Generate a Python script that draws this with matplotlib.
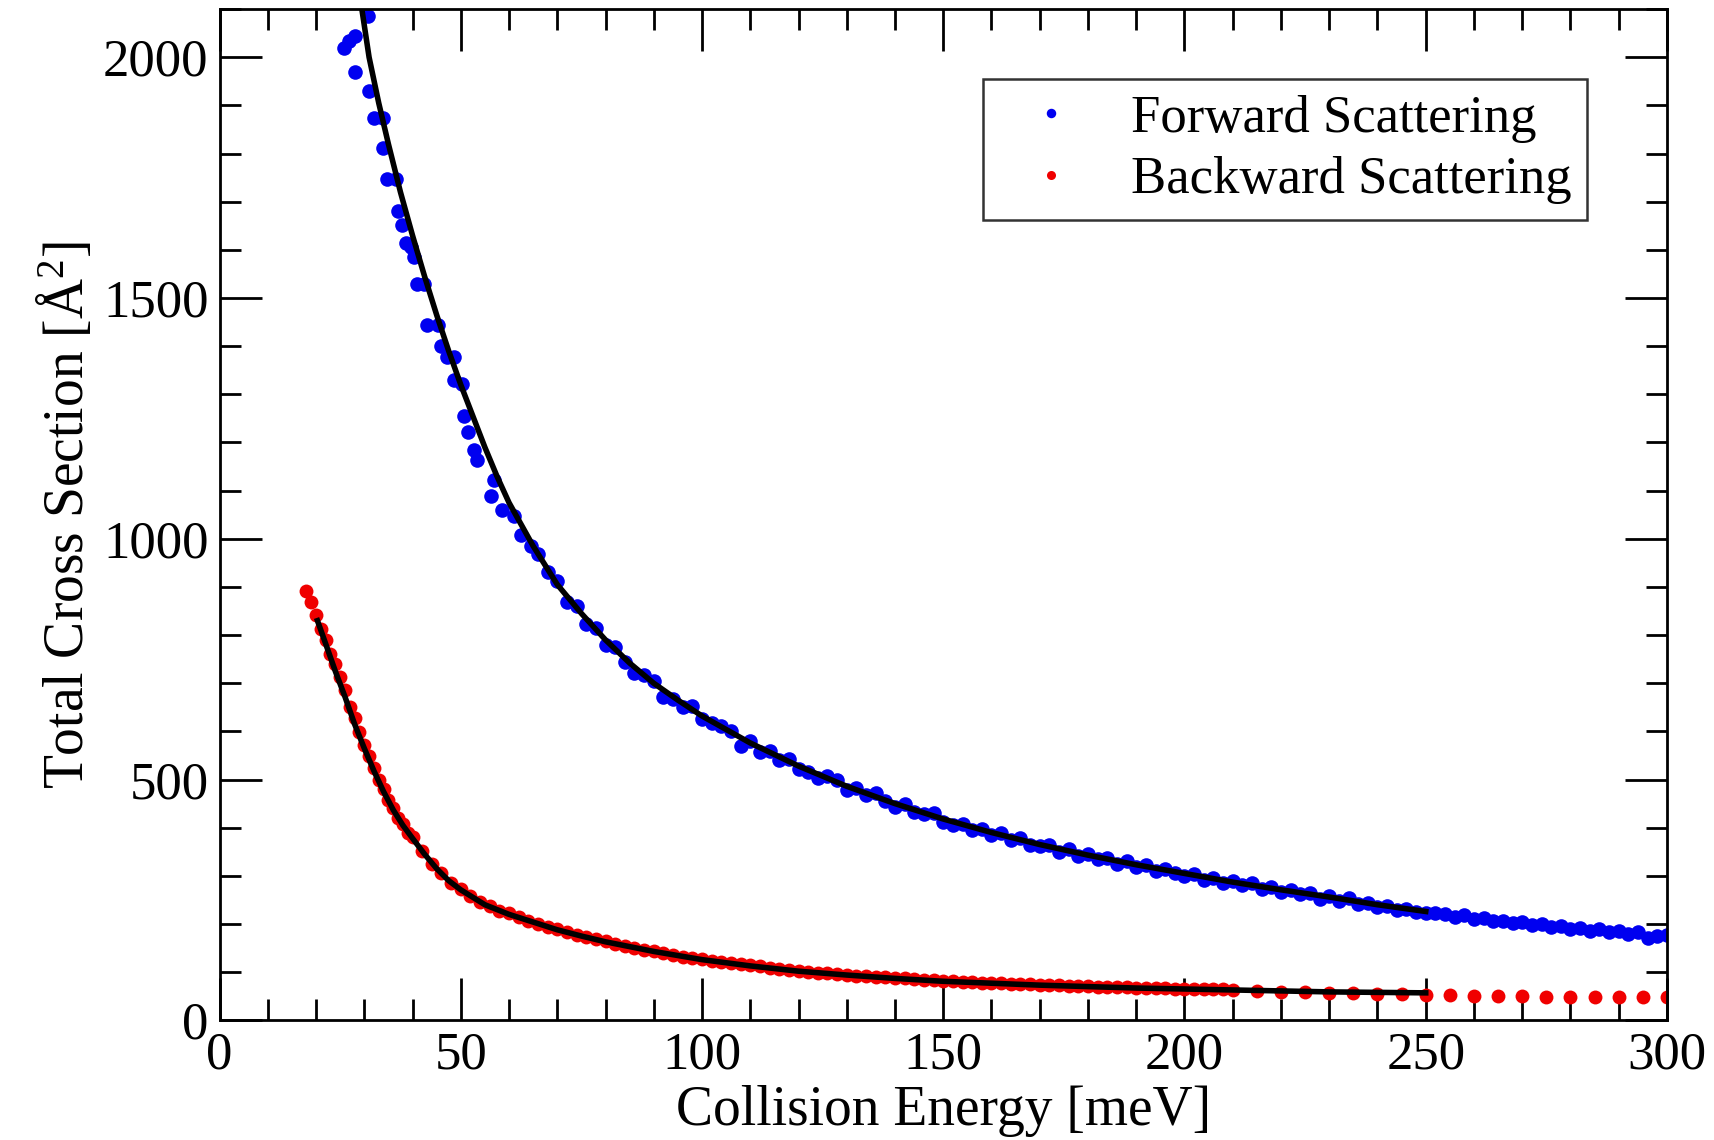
import matplotlib
matplotlib.use("Agg")
import matplotlib.pyplot as plt
from matplotlib.ticker import MultipleLocator

plt.rcParams['font.family'] = ['Liberation Serif', 'DejaVu Serif']
plt.rcParams['mathtext.fontset'] = 'custom'
plt.rcParams['mathtext.rm'] = 'Liberation Serif'
plt.rcParams['mathtext.it'] = 'Liberation Serif'

# forward scattering data points (meV, A^2)
fwd_x = [25.9, 26.9, 28.0, 28.0, 30.7, 30.9, 32.1, 33.8, 33.8, 34.8, 36.6, 36.9, 37.9, 38.6, 39.7,
         40.3, 41.0, 42.4, 43.1, 45.2, 45.9, 47.2, 48.6, 48.6, 50.3, 50.7, 51.4, 52.8, 53.4, 56.2,
         56.9, 58.6, 61.0, 62.4, 64.5,
         66, 68, 70, 72, 74, 76, 78, 80, 82, 84, 86, 88, 90, 92, 94, 96, 98, 100,
         102, 104, 106, 108, 110, 112, 114, 116, 118, 120, 122, 124, 126, 128, 130,
         132, 134, 136, 138, 140, 142, 144, 146, 148, 150, 152, 154, 156, 158, 160,
         162, 164, 166, 168, 170, 172, 174, 176, 178, 180, 182, 184, 186, 188, 190,
         192, 194, 196, 198, 200, 202, 204, 206, 208, 210, 212, 214, 216, 218, 220,
         222, 224, 226, 228, 230, 232, 234, 236, 238, 240, 242, 244, 246, 248, 250,
         252, 254, 256, 258, 260, 262, 264, 266, 268, 270, 272, 274, 276, 278, 280,
         282, 284, 286, 288, 290, 292, 294, 296, 298, 300]
fwd_y = [2019, 2033, 2044, 1970, 2085, 1930, 1874, 1874, 1811, 1748, 1748, 1681, 1652, 1615, 1607,
         1585, 1530, 1530, 1444, 1444, 1400, 1378, 1378, 1330, 1322, 1256, 1222, 1185, 1163, 1089,
         1122, 1059, 1048, 1007, 985,
         968, 930, 912, 868, 860, 822, 815, 780, 775, 745, 722, 718, 705, 672, 668, 650, 652, 625,
         618, 612, 600, 570, 580, 558, 560, 540, 542, 522, 515, 503, 508, 500, 478,
         482, 468, 472, 455, 444, 450, 432, 428, 430, 411, 405, 408, 395, 398, 385,
         388, 375, 378, 365, 362, 365, 350, 355, 342, 345, 335, 338, 325, 330, 318,
         322, 310, 315, 305, 300, 304, 292, 296, 285, 290, 280, 285, 272, 276, 266,
         270, 262, 264, 252, 258, 248, 254, 242, 244, 235, 238, 230, 232, 224, 222,
         222, 220, 214, 218, 210, 212, 206, 207, 202, 204, 198, 200, 194, 196, 190,
         192, 186, 189, 184, 186, 180, 183, 170, 176, 178]

# backward scattering data points
bwd_x = [18, 19, 20, 21, 22, 23, 24, 25, 26, 27, 28, 29, 30, 31, 32, 33, 34, 35, 36, 37, 38, 39, 40,
         42, 44, 46, 48, 50, 52, 54, 56, 58, 60, 62, 64, 66, 68, 70, 72, 74, 76, 78, 80,
         82, 84, 86, 88, 90, 92, 94, 96, 98, 100, 102, 104, 106, 108, 110, 112, 114, 116, 118, 120,
         122, 124, 126, 128, 130, 132, 134, 136, 138, 140, 142, 144, 146, 148, 150, 152, 154, 156,
         158, 160, 162, 164, 166, 168, 170, 172, 174, 176, 178, 180, 182, 184, 186, 188, 190, 192,
         194, 196, 198, 200, 202, 204, 206, 208, 210,
         215, 220, 225, 230, 235, 240, 245, 250, 255, 260, 265, 270, 275, 280, 285, 290, 295, 300]
bwd_y = [892, 868, 842, 812, 790, 760, 740, 712, 685, 650, 628, 598, 572, 548, 525, 500, 480, 458,
         440, 420, 408, 390, 380,
         352, 325, 305, 285, 272, 258, 245, 238, 228, 222, 214, 207, 201, 194, 190, 184, 178, 173, 168, 165,
         159, 155, 151, 147, 144, 140, 136, 132, 129, 127, 124, 121, 118, 116, 114, 112, 109, 107, 105, 103,
         101, 99, 98, 96, 95, 93, 92, 90, 89, 88, 87, 85, 84, 83, 82, 81, 80, 79,
         78, 78, 77, 76, 75, 75, 74, 73, 73, 72, 71, 71, 70, 70, 69, 69, 68, 68,
         67, 67, 66, 66, 65, 65, 64, 64, 63,
         60, 59, 58, 57, 56, 55, 54, 53, 52, 51, 51, 50, 48, 49, 49, 48, 48, 48]

# fitted curves
fit_fwd_x = [29.5, 31, 33, 35, 37.5, 40, 42.5, 45, 47.5, 50, 52.5, 55, 57.5, 60, 65, 70, 75, 80, 85,
             90, 95, 100, 110, 120, 130, 140, 150, 160, 170, 180, 190, 200, 210, 220, 230, 240, 250]
fit_fwd_y = [2100, 2000, 1905, 1820, 1720, 1630, 1545, 1465, 1390, 1320, 1255, 1190, 1130, 1075, 985,
             905, 845, 790, 742, 700, 665, 632, 576, 528, 486, 450, 418, 390, 365, 343, 323, 305,
             287, 271, 256, 240, 226]
fit_bwd_x = [20.3, 22, 24, 26, 28, 30, 32, 34, 36, 38, 40, 42.5, 45, 47.5, 50, 55, 60, 65, 70, 75,
             80, 90, 100, 110, 120, 130, 140, 150, 160, 170, 180, 190, 200, 210, 220, 230, 240, 250]
fit_bwd_y = [830, 782, 725, 672, 615, 565, 518, 475, 437, 405, 378, 345, 315, 290, 271, 240, 220,
             204, 188, 175, 163, 143, 126, 113, 102, 94, 87, 81, 77, 73, 70, 67, 65, 63, 61, 59, 58, 57]

fig = plt.figure(figsize=(17.15, 11.4), dpi=100)
ax = fig.add_axes([0.128, 0.105, 0.844, 0.887])

ax.plot(fwd_x, fwd_y, 'o', color='#0000f0', ms=10.5, mew=0, label='Forward Scattering')
ax.plot(bwd_x, bwd_y, 'o', color='#f00000', ms=10, mew=0, label='Backward Scattering')
ax.plot(fit_fwd_x, fit_fwd_y, '-', color='black', lw=4)
ax.plot(fit_bwd_x, fit_bwd_y, '-', color='black', lw=4)

ax.set_xlim(0, 300)
ax.set_ylim(0, 2100)
ax.xaxis.set_major_locator(MultipleLocator(50))
ax.xaxis.set_minor_locator(MultipleLocator(10))
ax.yaxis.set_major_locator(MultipleLocator(500))
ax.yaxis.set_minor_locator(MultipleLocator(100))
ax.tick_params(which='both', direction='in', top=True, right=True, width=2, labelsize=38)
ax.tick_params(which='major', length=30, pad=8)
ax.tick_params(which='minor', length=15)
for s in ax.spines.values():
    s.set_linewidth(2)

ax.set_xlabel('Collision Energy [meV]', fontsize=40, labelpad=4)
ax.set_ylabel('Total Cross Section [Å$^2$]', fontsize=40, labelpad=6)

leg = ax.legend(loc='upper right', bbox_to_anchor=(0.963, 0.957), fontsize=38, markerscale=0.65,
                frameon=True, fancybox=False, handletextpad=0.5, borderpad=0.3,
                labelspacing=0.25, handlelength=2.0)
leg.get_frame().set_edgecolor('black')
leg.get_frame().set_linewidth(1.8)

fig.savefig('out.png', dpi=100)
